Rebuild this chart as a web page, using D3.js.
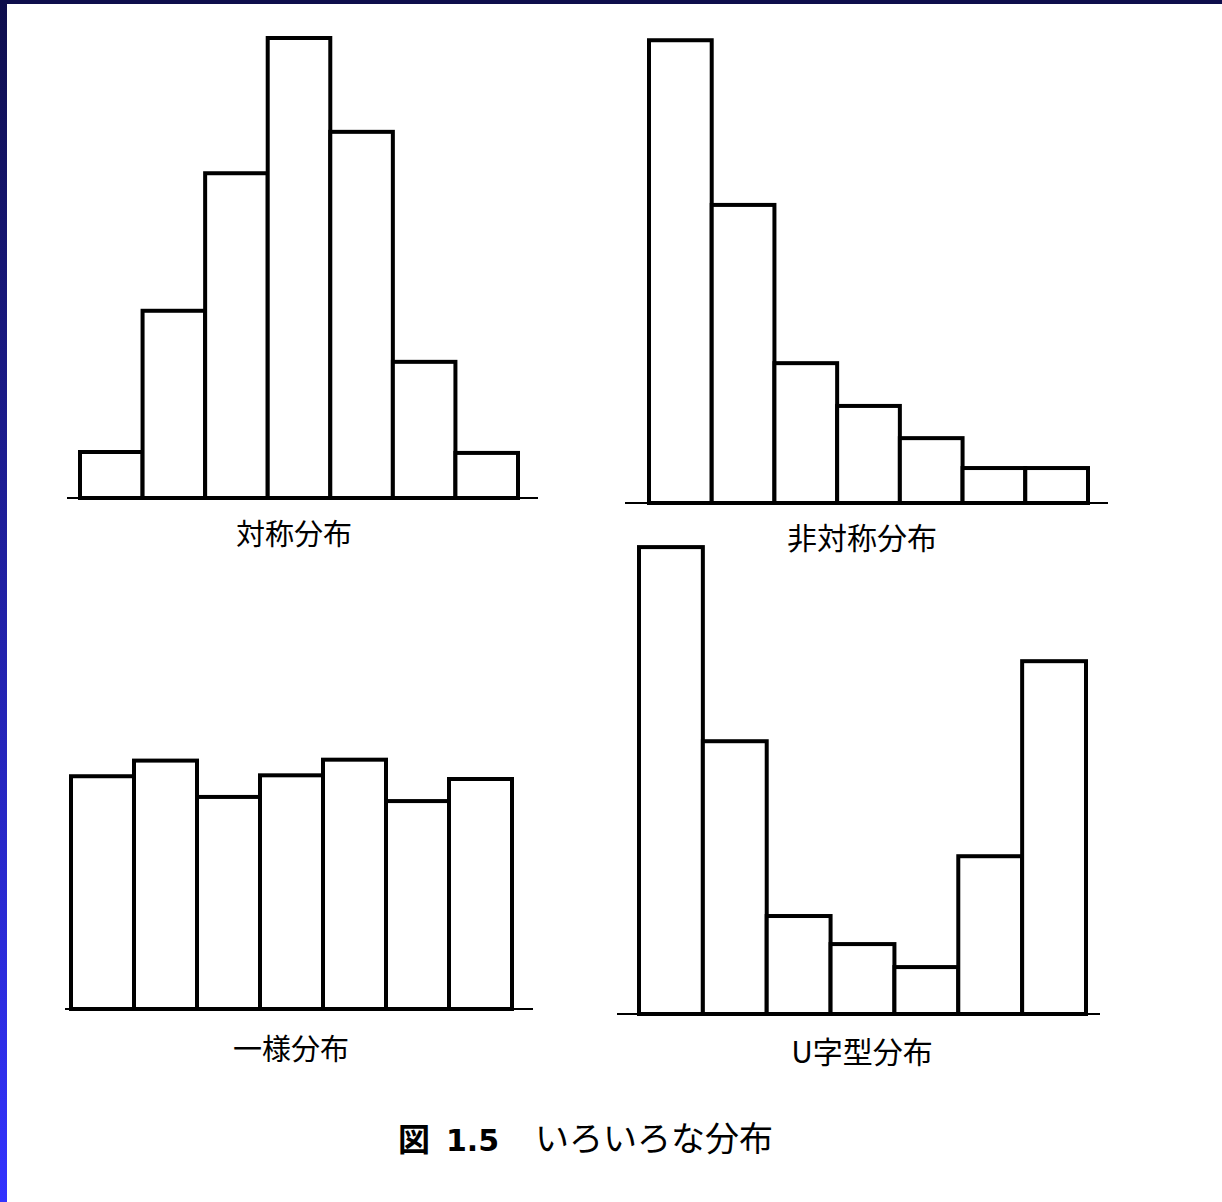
<!DOCTYPE html>
<html><head><meta charset="utf-8">
<script src="https://cdn.jsdelivr.net/npm/d3@7"></script>
<style>html,body{margin:0;padding:0;background:#fff;overflow:hidden}</style>
</head><body><svg id="c" width="1222" height="1202"></svg>
<script>
// ---- data ----
const bins = ["1","2","3","4","5","6","7"];
const symmetricValues  = [10, 40.7, 70.6, 100, 79.6, 29.6, 9.8];
const skewedValues     = [100.6, 64.8, 30.4, 21.1, 14.1, 7.6, 7.6];
const uniformValues    = [50.6, 54.0, 46.1, 50.8, 54.2, 45.2, 50.0];
const uShapeValues     = [101.5, 59.3, 21.3, 15.2, 10.2, 34.3, 76.7];
const panelTitles = ["対称分布", "非対称分布", "一様分布", "U字型分布"];
const captionFig = "図";
const captionNum = "1.5";
const captionText = "いろいろな分布";

const svg = d3.select("#c");
const defs = svg.append("defs");
const grad = defs.append("linearGradient").attr("id","lg").attr("x1",0).attr("y1",0).attr("x2",0).attr("y2",1);
grad.append("stop").attr("offset","0%").attr("stop-color","#0e0e4c");
grad.append("stop").attr("offset","100%").attr("stop-color","#3333ff");
svg.append("rect").attr("x",0).attr("y",0).attr("width",1222).attr("height",1202).attr("fill","#fff");
svg.append("rect").attr("x",0).attr("y",0).attr("width",1222).attr("height",4).attr("fill","#0e0e4c");
svg.append("rect").attr("x",0).attr("y",0).attr("width",7).attr("height",1202).attr("fill","url(#lg)");

const panels = [
  {vals: symmetricValues, x0:80,  x1:518,  base:498,  ax0:67,  ax1:538,  title:panelTitles[0], tx:294, ty:545, fs:29},
  {vals: skewedValues,    x0:649, x1:1088, base:503,  ax0:625, ax1:1108, title:panelTitles[1], tx:862, ty:549, fs:30},
  {vals: uniformValues,   x0:71,  x1:512,  base:1009, ax0:65,  ax1:533,  title:panelTitles[2], tx:291, ty:1060, fs:29},
  {vals: uShapeValues,    x0:639, x1:1086, base:1014, ax0:617, ax1:1100, title:panelTitles[3], tx:862, ty:1063, fs:30}
];

panels.forEach(p => {
  const x = d3.scaleBand().domain(bins).range([p.x0, p.x1]).padding(0);
  const y = d3.scaleLinear().domain([0, 100]).range([p.base, p.base - 460]);
  const g = svg.append("g");
  g.append("line").attr("x1",p.ax0).attr("x2",p.ax1).attr("y1",p.base).attr("y2",p.base)
    .attr("stroke","#000").attr("stroke-width",2);
  g.selectAll("rect.bar").data(p.vals).join("rect").attr("class","bar")
    .attr("x",(d,i)=>x(bins[i]))
    .attr("y",d=>y(d))
    .attr("width",x.bandwidth())
    .attr("height",d=>y(0)-y(d))
    .attr("fill","#fff").attr("stroke","#000").attr("stroke-width",4);
  g.append("text").attr("x",p.tx).attr("y",p.ty).attr("text-anchor","middle")
    .attr("font-family","'Noto Sans CJK JP'").attr("font-size",p.fs).attr("fill","#000")
    .text(p.title);
});

const cap = svg.append("text").attr("y",1151)
  .attr("font-family","'Noto Sans CJK JP'").attr("font-size",32).attr("fill","#000");
cap.append("tspan").attr("x",398).attr("font-weight","bold").text(captionFig);
cap.append("tspan").attr("x",446).attr("font-weight","bold").attr("font-family","'DejaVu Sans'").attr("font-size",30).text(captionNum);
cap.append("tspan").attr("x",535).attr("font-size",34).text(captionText);
</script></body></html>
